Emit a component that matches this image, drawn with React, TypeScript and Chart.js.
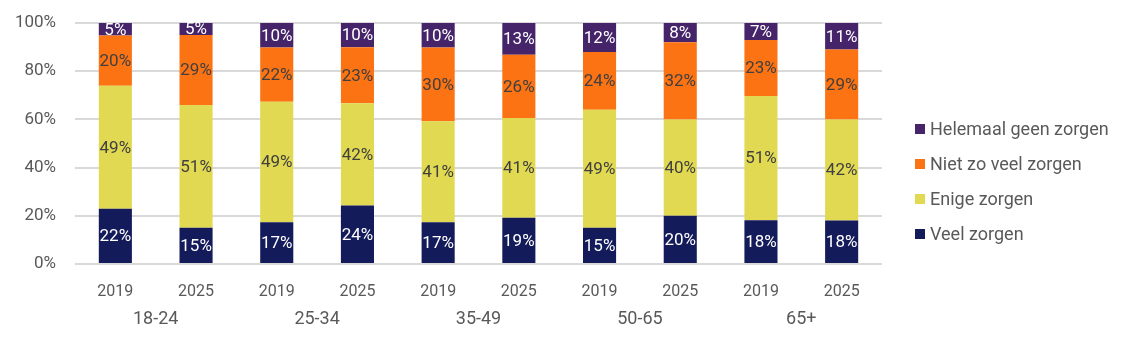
import { useEffect, useRef } from 'react';
import { Chart, registerables } from 'chart.js';

Chart.register(...registerables);

const years = ['2019', '2025', '2019', '2025', '2019', '2025', '2019', '2025', '2019', '2025'];
const ageGroups = ['18-24', '25-34', '35-49', '50-65', '65+'];

const veelZorgen = [22, 15, 17, 24, 17, 19, 15, 20, 18, 18];
const enigeZorgen = [49, 51, 49, 42, 41, 41, 49, 40, 51, 42];
const nietZoVeelZorgen = [20, 29, 22, 23, 30, 26, 24, 32, 23, 29];
const helemaalGeenZorgen = [5, 5, 10, 10, 10, 13, 12, 8, 7, 11];

const seriesNames = ['Veel zorgen', 'Enige zorgen', 'Niet zo veel zorgen', 'Helemaal geen zorgen'];
const seriesValues = [veelZorgen, enigeZorgen, nietZoVeelZorgen, helemaalGeenZorgen];
const seriesColors = ['#141b5b', '#e1d952', '#fc7313', '#45246a'];
const valueLabelColors = ['#ffffff', '#404040', '#404040', '#ffffff'];

const yTicks = [0, 20, 40, 60, 80, 100];

const FONT = 'Roboto, "Noto Sans", sans-serif';
const TEXT_COLOR = '#595959';

export default function App() {
  const canvasRef = useRef<HTMLCanvasElement | null>(null);

  useEffect(() => {
    if (!canvasRef.current) return;
    const totals = years.map((_, i) => seriesValues.reduce((s, arr) => s + arr[i], 0));

    const valueLabels = {
      id: 'valueLabels',
      afterDatasetsDraw(chart: any) {
        const ctx = chart.ctx;
        ctx.save();
        ctx.font = `17px ${FONT}`;
        ctx.textAlign = 'center';
        ctx.textBaseline = 'middle';
        chart.data.datasets.forEach((ds: any, di: number) => {
          const meta = chart.getDatasetMeta(di);
          meta.data.forEach((el: any, i: number) => {
            const p = el.getProps(['x', 'y', 'base'], true);
            ctx.fillStyle = valueLabelColors[di];
            ctx.fillText(seriesValues[di][i] + '%', p.x, (p.y + p.base) / 2 + 1);
          });
        });
        ctx.restore();
      },
    };

    const sideLegend = {
      id: 'sideLegend',
      afterDraw(chart: any) {
        const ctx = chart.ctx;
        ctx.save();
        ctx.font = `18px ${FONT}`;
        ctx.textAlign = 'left';
        ctx.textBaseline = 'middle';
        const x0 = chart.chartArea.right + 33;
        const cy = chart.height / 2 + 1;
        const spacing = 35;
        const order = [3, 2, 1, 0];
        order.forEach((di, k) => {
          const y = cy + (k - 1.5) * spacing;
          ctx.fillStyle = seriesColors[di];
          ctx.fillRect(x0, y - 5, 10, 10);
          ctx.fillStyle = TEXT_COLOR;
          ctx.fillText(seriesNames[di], x0 + 15, y + 1);
        });
        ctx.restore();
      },
    };

    const chart = new Chart(canvasRef.current, {
      type: 'bar',
      data: {
        labels: years,
        datasets: seriesNames.map((name, di) => ({
          label: name,
          data: seriesValues[di].map((v, i) => (v / totals[i]) * 100),
          backgroundColor: seriesColors[di],
          borderWidth: 0,
          barPercentage: 0.41,
          categoryPercentage: 1,
        })),
      },
      options: {
        responsive: true,
        maintainAspectRatio: false,
        animation: false,
        layout: { padding: { top: 15, right: 239, bottom: 24, left: 0 } },
        plugins: {
          legend: { display: false },
          tooltip: { enabled: false },
        },
        scales: {
          x: {
            stacked: true,
            afterFit(scale: any) {
              scale.height = 35;
            },
            grid: { display: false, drawTicks: false },
            border: { display: false },
            ticks: { color: TEXT_COLOR, font: { family: FONT, size: 16 }, padding: 18, maxRotation: 0 },
          },
          x2: {
            type: 'category',
            position: 'bottom',
            labels: ageGroups,
            offset: true,
            afterFit(scale: any) {
              scale.height = 30;
            },
            grid: { display: false, drawTicks: false },
            border: { display: false },
            ticks: { color: TEXT_COLOR, font: { family: FONT, size: 18 }, padding: 10, maxRotation: 0 },
          },
          y: {
            stacked: true,
            min: 0,
            max: 100,
            afterFit(scale: any) {
              scale.width = 67;
              scale.paddingTop = 10;
              scale.paddingBottom = 10;
            },
            afterBuildTicks(scale: any) {
              scale.ticks = yTicks.map((v) => ({ value: v }));
            },
            grid: { color: '#d9d9d9', lineWidth: 2, drawTicks: false },
            border: { display: false },
            ticks: {
              color: TEXT_COLOR,
              font: { family: FONT, size: 17 },
              padding: 19,
              callback: (v: any) => v + '%',
            },
          },
        } as any,
      },
      plugins: [valueLabels, sideLegend],
    });

    return () => chart.destroy();
  }, []);

  return (
    <div style={{ width: '1113px', height: '345px', position: 'relative' }}>
      <canvas ref={canvasRef} />
    </div>
  );
}
